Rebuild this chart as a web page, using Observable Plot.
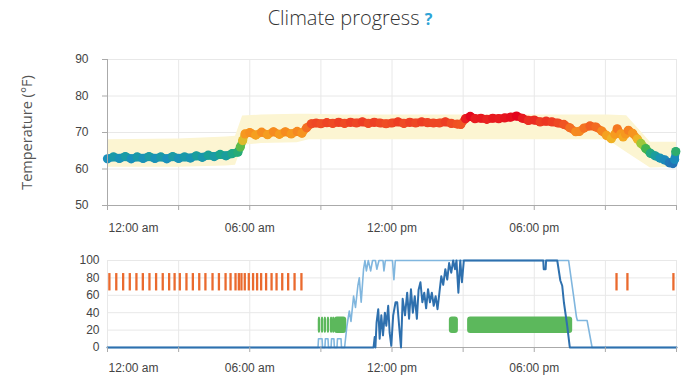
<!DOCTYPE html>
<html><head><meta charset="utf-8">
<script src="https://cdn.jsdelivr.net/npm/d3@7"></script>
<script src="https://cdn.jsdelivr.net/npm/@observablehq/plot@0.6"></script>
<style>
body{margin:0;background:#fff;width:700px;height:382px;overflow:hidden;position:relative;font-family:"Liberation Sans",Arial,sans-serif}
#title{position:absolute;top:5px;left:0;width:700px;text-align:center;font-family:"Open Sans",sans-serif;font-weight:300;font-size:20px;color:#333;line-height:26px}
#title span{color:#2fa4d6;font-weight:700;font-size:16px}
#top{position:absolute;top:45px;left:0}
#bottom{position:absolute;top:240px;left:0}
</style></head><body>
<div id="title">Climate progress <span>?</span></div>
<div id="top"></div><div id="bottom"></div>
<script>
// ---- data (hours since midnight) ----
const tempHours = [0,0.25,0.5,0.75,1,1.25,1.5,1.75,2,2.25,2.5,2.75,3,3.25,3.5,3.75,4,4.25,4.5,4.75,5,5.25,5.5,5.6,5.7,5.8,6,6.25,6.5,6.75,7,7.25,7.5,7.75,8,8.2,8.4,8.6,8.8,9,9.25,9.5,9.75,10,10.25,10.5,10.75,11,11.25,11.5,11.75,12,12.25,12.5,12.75,13,13.25,13.5,13.75,14,14.25,14.5,14.75,14.9,15.1,15.3,15.5,15.75,16,16.25,16.5,16.75,17,17.25,17.5,17.75,18,18.25,18.5,18.75,19,19.25,19.5,19.75,19.9,20.1,20.35,20.6,20.85,21.05,21.25,21.4,21.5,21.65,21.75,21.85,21.97,22.15,22.35,22.5,22.7,22.9,23.1,23.3,23.5,23.7,23.85,23.92,23.97];
const tempValues = [62.8,63.3,62.9,63.4,62.8,63.3,62.9,63.4,62.9,63.3,62.8,63.4,62.9,63.3,63.0,63.6,63.2,63.8,63.4,64.0,63.6,64.2,64.6,66.0,67.8,69.6,70.0,69.3,70.1,69.4,70.2,69.5,70.2,69.6,70.3,69.8,71.3,72.4,72.6,72.4,72.7,72.5,72.8,72.5,72.8,72.6,72.9,72.5,72.8,72.6,72.4,72.6,72.9,72.5,72.8,72.6,72.9,72.7,72.6,72.6,72.9,72.5,72.3,72.2,73.8,74.4,73.8,73.9,73.6,73.9,73.8,74.0,74.2,74.5,73.9,73.3,73.4,72.9,73.1,72.9,72.6,72.2,71.3,70.2,70.3,71.2,71.8,71.5,70.4,69.2,68.3,69.5,71.0,69.6,68.8,69.6,70.6,69.8,68.2,67.0,65.6,64.3,63.6,63.0,62.5,61.7,61.5,62.6,64.8];

const bandHours = [0,3,5.0,5.4,5.7,6.5,8.0,8.5,10,14,18,21.1,21.9,22.9,24];
const bandLow  = [60.5,60.5,60.8,61.0,66.5,67.0,67.2,68.0,68.0,68.0,68.0,68.0,64.5,60.3,60.5];
const bandHigh = [68.0,68.2,68.8,69.0,74.5,74.8,75.0,75.0,74.8,74.8,74.8,74.8,74.6,67.3,67.3];

const lightHours = [0,8.88,8.9,9.05,9.07,9.17,9.19,9.3,9.32,9.43,9.45,9.55,9.57,9.68,9.7,9.85,9.87,10.0,10.1,10.2,10.27,10.38,10.46,10.56,10.62,10.7,10.8,10.86,10.92,11.0,11.1,11.18,11.3,11.36,11.45,11.62,11.66,11.72,12.02,12.08,12.14,19.45,19.66,19.78,19.82,20.23,20.44,24];
const lightValues = [0,0,10,10,0,0,10,10,0,0,10,10,0,0,10,10,0,0,25,42,30,59,46,71,80,52,90,100,88,100,88,100,100,90,100,100,88,100,100,78,100,100,59,35,31,31,0,0];

const darkHours = [0,11.22,11.27,11.30,11.35,11.42,11.48,11.55,11.62,11.70,11.76,11.84,11.90,11.97,12.05,12.15,12.22,12.30,12.38,12.45,12.55,12.64,12.72,12.80,12.88,12.96,13.05,13.12,13.20,13.28,13.36,13.44,13.52,13.60,13.68,13.76,13.84,13.92,14.0,14.08,14.16,14.25,14.33,14.41,14.50,14.58,14.66,14.72,14.80,14.88,14.95,15.03,18.38,18.40,18.48,18.50,18.97,19.1,19.18,19.25,19.39,19.5,24];
const darkValues = [0,0,12,0,29,44,10,37,14,40,25,48,17,2,37,52,52,25,0,56,37,63,33,67,40,59,33,66,75,52,63,45,67,52,63,48,59,44,63,82,72,90,78,97,86,100,90,100,63,100,75,100,100,90,90,100,100,77,71,52,25,0,0];

const orangeHours = [0.08,0.37,0.66,0.94,1.22,1.49,1.77,2.05,2.33,2.60,2.83,3.05,3.33,3.60,3.87,4.13,4.43,4.70,4.98,5.19,5.40,5.54,5.65,5.79,5.96,6.14,6.31,6.48,6.69,6.92,7.13,7.37,7.62,7.89,8.18,21.47,21.93,23.87];
const greenStart = [8.94,9.07,9.19,9.32,9.45,9.54,9.62,14.47,15.24];
const greenEnd   = [8.94,9.07,9.19,9.32,9.45,9.54,10.04,14.75,19.57];

const gridHours = [0,3,6,9,12,15,18,21,24];
const labelHours = [0,6,12,18];
const labelTexts = ["12:00 am","06:00 am","12:00 pm","06:00 pm"];
const tempTicks = [50,60,70,80,90];
const pctTicks = [0,20,40,60,80,100];

// ---- tables ----
const temps = tempHours.map((h, i) => ({h, t: tempValues[i]}));
const band = bandHours.map((h, i) => ({h, lo: bandLow[i], hi: bandHigh[i]}));
const light = lightHours.map((h, i) => ({h, v: lightValues[i]}));
const dark = darkHours.map((h, i) => ({h, v: darkValues[i]}));
const greens = greenStart.map((s, i) => ({s, e: greenEnd[i]}));
const fmt = h => labelTexts[labelHours.indexOf(h)];

const font = "Liberation Sans, Arial, sans-serif";
const gridColor = "#e8e8e8";
const axisColor = "#aaaaaa";
const textColor = "#444";

function xAxes(pad) {
  return [
    Plot.axisX({ticks: gridHours, tickSize: 5, stroke: axisColor, tickFormat: () => "", label: null}),
    Plot.axisX({ticks: [labelHours[0]], tickSize: 0, tickPadding: pad, textAnchor: "start", dx: 1, tickFormat: fmt, fill: textColor, fontSize: 12, label: null}),
    Plot.axisX({ticks: labelHours.slice(1), tickSize: 0, tickPadding: pad, tickFormat: fmt, fill: textColor, fontSize: 12, label: null})
  ];
}

const topChart = Plot.plot({
  width: 700, height: 195,
  marginLeft: 107, marginRight: 24, marginTop: 14, marginBottom: 35,
  style: {fontFamily: font, fontSize: "12px", color: textColor, background: "white"},
  x: {domain: [0, 24], label: null},
  y: {domain: [50, 90], label: null},
  color: {type: "linear", interpolate: "rgb",
    domain: [61.5, 62.8, 64, 65.5, 67, 68, 69, 70, 71.5, 72.7, 74],
    range: ["#2272b5","#1a90bb","#1ba58e","#3cb451","#9cc83a","#eeb828","#f5a51f","#f6901f","#f36a22","#ee4424","#e6151f"]},
  marks: [
    Plot.gridX(gridHours, {stroke: gridColor, strokeOpacity: 1}),
    Plot.gridY(tempTicks, {stroke: gridColor, strokeOpacity: 1}),
    Plot.areaY(band, {x: "h", y1: "lo", y2: "hi", fill: "#fcf5d2"}),
    Plot.line(temps, {x: "h", y: "t", z: null, stroke: "t", strokeWidth: 8, strokeLinecap: "round"}),
    Plot.dot(temps, {x: "h", y: "t", r: 4.6, fill: "t", stroke: null}),
    Plot.ruleX([0], {stroke: axisColor}),
    Plot.ruleY([50], {stroke: axisColor}),
    Plot.axisY({ticks: tempTicks, tickSize: 5, tickPadding: 14, stroke: axisColor, fill: textColor, fontSize: 12, label: null}),
    ...xAxes(18),
    Plot.text(["Temperature (°F)"], {frameAnchor: "left", textAnchor: "middle", dx: -80, rotate: -90, fontSize: 14.5, fill: "#555", fontFamily: "Open Sans, sans-serif"})
  ]
});
document.getElementById("top").append(topChart);

const bottomChart = Plot.plot({
  width: 700, height: 142,
  marginLeft: 107, marginRight: 24, marginTop: 20, marginBottom: 35,
  style: {fontFamily: font, fontSize: "12px", color: textColor, background: "white"},
  x: {domain: [0, 24], label: null},
  y: {domain: [0, 100], label: null},
  marks: [
    Plot.gridX(gridHours, {stroke: gridColor, strokeOpacity: 1}),
    Plot.gridY(pctTicks, {stroke: gridColor, strokeOpacity: 1}),
    Plot.ruleY([0], {stroke: axisColor}),
    Plot.ruleX(orangeHours, {y1: 65, y2: 85, stroke: "#ea6a2e", strokeWidth: 2.3}),
    Plot.rect(greens, {x1: "s", x2: "e", y1: 16, y2: 35, fill: "#5cb85c", rx: 3, insetLeft: -1.2, insetRight: -1.2}),
    Plot.line(light, {x: "h", y: "v", stroke: "#80b6de", strokeWidth: 1.6}),
    Plot.line(dark, {x: "h", y: "v", stroke: "#2e70ae", strokeWidth: 2}),
    Plot.axisY({ticks: pctTicks, tickSize: 0, tickPadding: 8, fill: textColor, fontSize: 12, label: null}),
    ...xAxes(16)
  ]
});
document.getElementById("bottom").append(bottomChart);
</script></body></html>
